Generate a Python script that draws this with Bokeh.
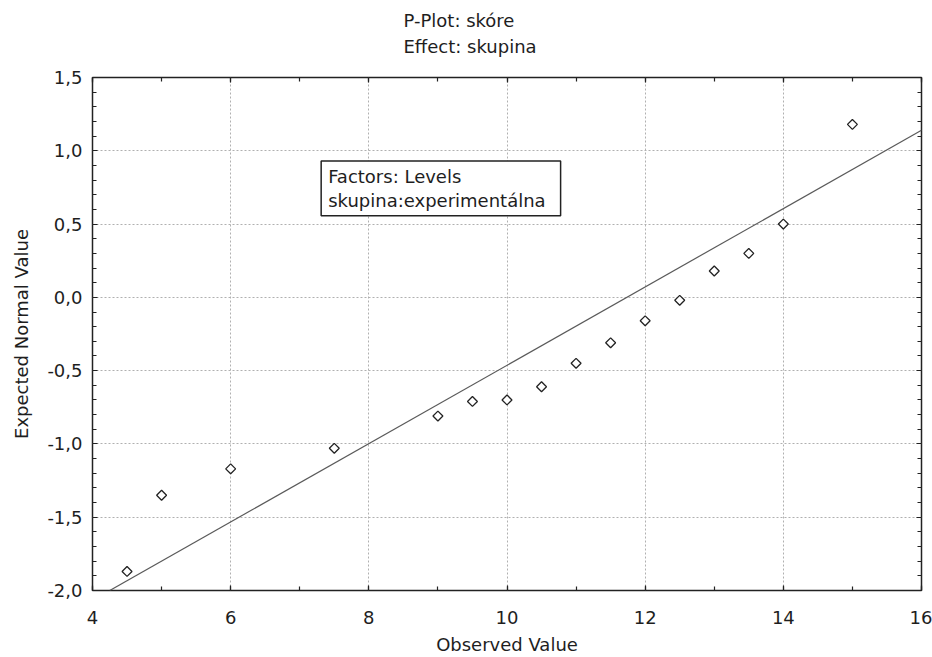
from math import pi
from bokeh.plotting import figure
from bokeh.models import (LinearAxis, SingleIntervalTicker, CustomJSTickFormatter,
                          Label, Title, Range1d, Grid, ColumnDataSource)
from bokeh.embed import file_html
from bokeh.resources import INLINE

# ---- data ----
observed = [4.5, 5.0, 6.0, 7.5, 9.0, 9.5, 10.0, 10.5, 11.0, 11.5, 12.0, 12.5, 13.0, 13.5, 14.0, 15.0]
expected = [-1.87, -1.35, -1.17, -1.03, -0.81, -0.71, -0.70, -0.61, -0.45, -0.31, -0.16, -0.02,
            0.18, 0.30, 0.50, 1.18]
fit_x = [4.25, 16.0]
fit_y = [-2.0, 1.14]
title_text = "P-Plot: skóre\nEffect: skupina"
box_text = "Factors: Levels\nskupina:experimentálna"
x_label = "Observed Value"
y_label = "Expected Normal Value"

FONT = "DejaVu Sans"
TXT = "#1e1e1e"

p = figure(width=932, height=657, output_backend="svg", toolbar_location=None,
           x_range=Range1d(4, 16), y_range=Range1d(-2.0, 1.5),
           x_axis_type=None, y_axis_type=None,
           min_border_left=92, min_border_right=11, min_border_top=77, min_border_bottom=67,
           background_fill_color="white", border_fill_color="white")
p.outline_line_color = "#222222"
p.outline_line_width = 1.5

xt = SingleIntervalTicker(interval=2, num_minor_ticks=2)
yt = SingleIntervalTicker(interval=0.5, num_minor_ticks=5)
xfmt = CustomJSTickFormatter(code="return tick.toFixed(0);")
yfmt = CustomJSTickFormatter(code="return tick.toFixed(1).replace('.', ',');")
blank = CustomJSTickFormatter(code="return '';")


def style(ax, show_labels):
    ax.major_tick_in = 5
    ax.major_tick_out = 0
    ax.minor_tick_in = 4
    ax.minor_tick_out = 0
    ax.major_tick_line_color = "#222222"
    ax.minor_tick_line_color = "#222222"
    ax.major_tick_line_width = 1.2
    ax.minor_tick_line_width = 1.2
    ax.axis_line_color = None
    ax.major_label_text_font = FONT
    ax.major_label_text_font_size = "18px" if show_labels else "0px"
    ax.major_label_text_color = TXT
    ax.axis_label_text_font = FONT
    ax.axis_label_text_font_size = "18px"
    ax.axis_label_text_font_style = "normal"
    ax.axis_label_text_color = TXT


xb = LinearAxis(ticker=xt, formatter=xfmt, axis_label=x_label)
style(xb, True)
xb.major_label_standoff = 20
xb.axis_label_standoff = 7
p.add_layout(xb, "below")

yl = LinearAxis(ticker=yt, formatter=yfmt, axis_label=y_label)
style(yl, True)
yl.major_label_standoff = 10
yl.axis_label_standoff = 12
p.add_layout(yl, "left")

xa = LinearAxis(ticker=xt, formatter=blank)
style(xa, False)
xa.major_label_standoff = 0
p.add_layout(xa, "above")

yr = LinearAxis(ticker=yt, formatter=blank)
style(yr, False)
yr.major_label_standoff = 0
p.add_layout(yr, "right")

for dim, tk in ((0, xt), (1, yt)):
    p.add_layout(Grid(dimension=dim, ticker=tk, grid_line_color="#b0b0b0",
                      grid_line_dash="2 2", grid_line_width=1))

p.add_layout(Title(text=title_text, align="left", offset=311, vertical_align="top",
                   text_font=FONT, text_font_size="18px", text_font_style="normal",
                   text_color=TXT, text_line_height=1.27, standoff=0,
                   padding=dict(left=0, right=0, top=6, bottom=18)), "above")

src = ColumnDataSource(dict(x=observed, y=expected))
p.line(fit_x, fit_y, line_color="#5a5a5a", line_width=1.2)
p.scatter("x", "y", source=src, marker="square", angle=pi / 4, size=7,
          fill_color="white", line_color="#222222", line_width=1.3)

p.add_layout(Label(x=7.31, y=0.931, text=box_text, text_font=FONT, text_font_size="18px",
                   text_color=TXT, text_align="left", text_baseline="top",
                   text_line_height=1.14,
                   padding=dict(left=7, right=15, top=5, bottom=5),
                   border_line_color="#222222", border_line_width=1.5,
                   background_fill_color="white"))

open("out.html", "w").write(file_html(p, INLINE))
